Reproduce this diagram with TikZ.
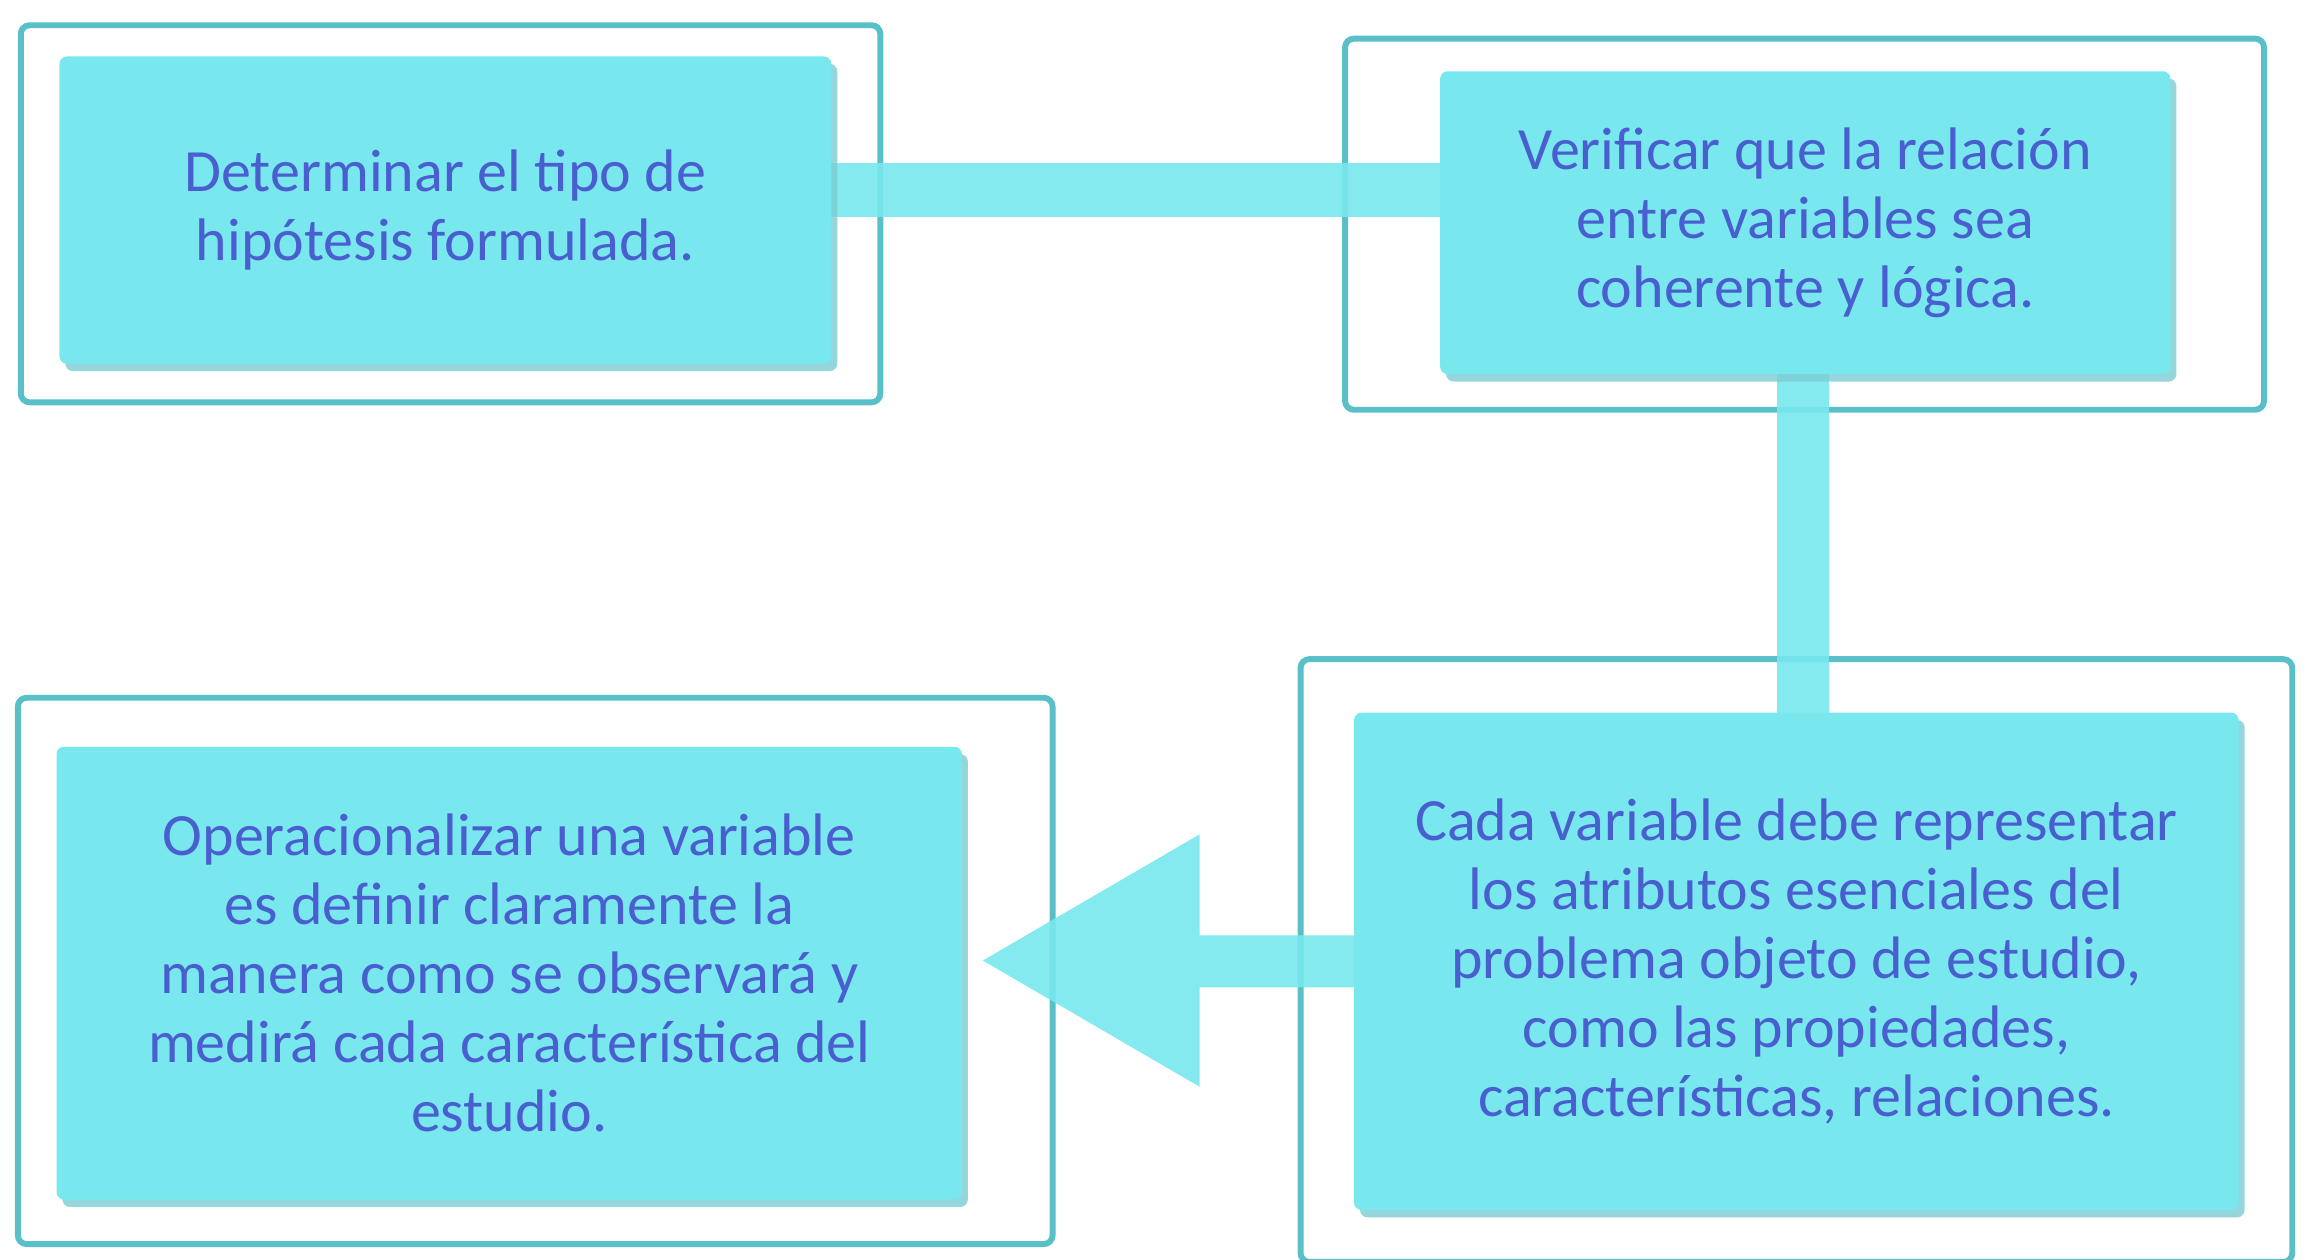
\documentclass[tikz,border=0pt]{standalone}
\usepackage{fontspec}
\setmainfont{Carlito}
\usetikzlibrary{positioning,shadows,calc}
\definecolor{boxfill}{HTML}{78E8EE}
\definecolor{framecol}{HTML}{59BFC9}
\definecolor{textcol}{HTML}{4A5FCF}
\begin{document}
\begin{tikzpicture}[x=0.02cm,y=-0.02cm,
    frame/.style={draw=framecol,line width=0.08cm,rounded corners=0.12cm,fill=white},
    stepbox/.style={fill=boxfill,rounded corners=0.1cm,align=center,text=textcol,
      font=\fontsize{23}{26.5}\selectfont,
      drop shadow={shadow xshift=0.08cm,shadow yshift=-0.1cm,fill=framecol!80,opacity=0.8}},
    link/.style={fill=boxfill,opacity=0.9}]
      \useasboundingbox (0,0) rectangle (1560,848.5);

      % outer frames
      \draw[frame] (14,17) rectangle (593,271);
      \draw[frame] (906,26) rectangle (1525,276);
      \draw[frame] (876,444) rectangle (1544,850);
      \draw[frame] (12,470) rectangle (709,838);

      % connectors
      \fill[link] (560,110) rectangle (972,146);
      \fill[link] (1197,250) rectangle (1232,482);
      \fill[link] (914,630) -- (808,630) -- (808,562) -- (662,647) -- (808,732) -- (808,665) -- (914,665) -- cycle;

      % steps
      \node[stepbox,minimum width=10.4cm,minimum height=4.14cm] (tipo) at (300,141.5)
        {Determinar el tipo de\\hipótesis formulada.};
      \node[stepbox,minimum width=9.84cm,minimum height=4.08cm] (relacion) at (1216,150)
        {Verificar que la relación\\entre variables sea\\coherente y lógica.};
      \node[stepbox,minimum width=11.92cm,minimum height=6.7cm] (atributos) at (1210,647.5)
        {Cada variable debe representar\\los atributos esenciales del\\problema objeto de estudio,\\como las propiedades,\\características, relaciones.};
      \node[stepbox,minimum width=12.2cm,minimum height=6.1cm] (operar) at (343,655.5)
        {Operacionalizar una variable\\es definir claramente la\\manera como se observará y\\medirá cada característica del\\estudio.};
\end{tikzpicture}
\end{document}
